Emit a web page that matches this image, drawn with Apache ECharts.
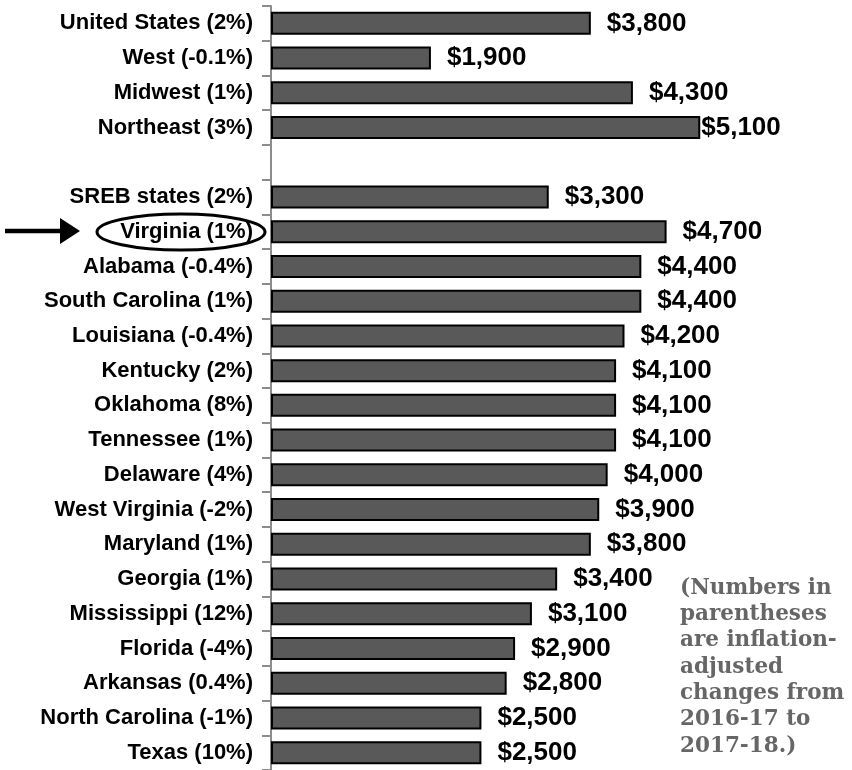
<!DOCTYPE html>
<html>
<head>
<meta charset="utf-8">
<script src="https://cdn.jsdelivr.net/npm/echarts@6/dist/echarts.min.js"></script>
<style>
  html, body { margin: 0; padding: 0; background: #ffffff; }
  #chart { width: 852px; height: 770px; }
</style>
</head>
<body>
<div id="chart"></div>
<script>
// categories top to bottom (empty one is the gap after the regions)
var categories = [
  "United States (2%)", "West (-0.1%)", "Midwest (1%)", "Northeast (3%)", "",
  "SREB states (2%)", "Virginia (1%)", "Alabama (-0.4%)", "South Carolina (1%)",
  "Louisiana (-0.4%)", "Kentucky (2%)", "Oklahoma (8%)", "Tennessee (1%)",
  "Delaware (4%)", "West Virginia (-2%)", "Maryland (1%)", "Georgia (1%)",
  "Mississippi (12%)", "Florida (-4%)", "Arkansas (0.4%)", "North Carolina (-1%)",
  "Texas (10%)"
];
var values = [
  3800, 1900, 4300, 5100, null,
  3300, 4700, 4400, 4400,
  4200, 4100, 4100, 4100,
  4000, 3900, 3800, 3400,
  3100, 2900, 2800, 2500,
  2500
];
var noteLines = [
  "(Numbers in", "parentheses", "are inflation-", "adjusted",
  "changes from", "2016-17 to", "2017-18.)"
];

var myChart = echarts.init(document.getElementById("chart"));

let barData = values.map(function(v, i) {
  if (v === null) return "-";
  let item = { value: v };
  // Northeast label sits right against its bar in the original
  if (categories[i] === "Northeast (3%)") {
    item.label = { distance: 1 };
  }
  return item;
});

let option = {
  animation: false,
  grid: {
    left: 271,
    top: 6,
    width: 505,
    height: 765
  },
  xAxis: {
    type: "value",
    min: 0,
    max: 6000,
    show: false
  },
  yAxis: {
    type: "category",
    inverse: true,
    data: categories,
    axisLine: {
      lineStyle: { color: "#8c8c8c", width: 2 }
    },
    axisTick: {
      show: true,
      alignWithLabel: false,
      length: 9,
      lineStyle: { color: "#8c8c8c", width: 2 }
    },
    axisLabel: {
      margin: 18,
      color: "#000000",
      fontFamily: "Liberation Sans",
      fontWeight: "bold",
      fontSize: 22
    }
  },
  series: [
    {
      type: "bar",
      data: barData,
      barWidth: 23,
      itemStyle: {
        color: "#595959",
        borderColor: "#000000",
        borderWidth: 2
      },
      label: {
        show: true,
        position: "right",
        distance: 16,
        color: "#000000",
        fontFamily: "Liberation Sans",
        fontWeight: "bold",
        fontSize: 26,
        formatter: function(p) {
          return "$" + Number(p.value).toLocaleString("en-US");
        }
      }
    }
  ],
  graphic: [
    // circle round Virginia
    {
      type: "ellipse",
      shape: { cx: 181, cy: 232, rx: 84, ry: 18 },
      style: { fill: "none", stroke: "#000000", lineWidth: 3 }
    },
    // arrow pointing at it
    {
      type: "line",
      shape: { x1: 5, y1: 231, x2: 64, y2: 231 },
      style: { stroke: "#000000", lineWidth: 4.5 }
    },
    {
      type: "polygon",
      shape: { points: [[60, 218], [80, 231], [60, 244]] },
      style: { fill: "#000000" }
    },
    {
      type: "text",
      left: 680,
      top: 575,
      style: {
        text: noteLines.join("\n"),
        fill: "#666666",
        font: "bold 21.5px 'DejaVu Serif'",
        lineHeight: 26.3
      }
    }
  ]
};
myChart.setOption(option);
</script>
</body>
</html>
